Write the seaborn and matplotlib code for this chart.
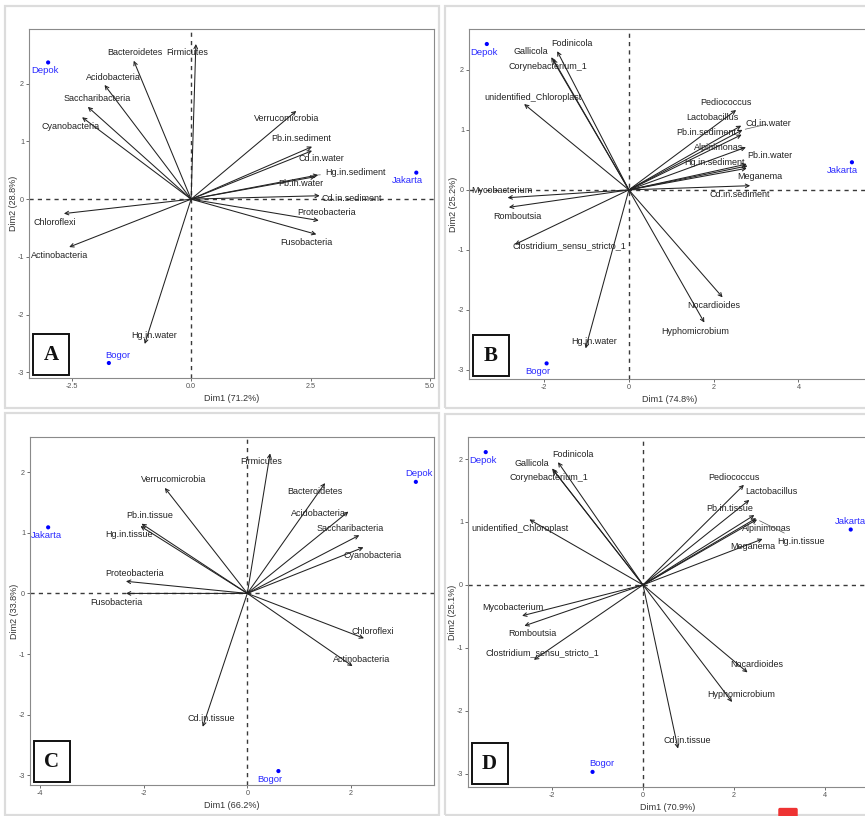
import matplotlib
matplotlib.use("Agg")
import matplotlib.pyplot as plt
import seaborn as sns
import pandas as pd
from matplotlib.patches import Rectangle, FancyBboxPatch

# ---------------- data ----------------
sites = ["Depok", "Jakarta", "Bogor"]

# panel A : phyla + metals in water / sediment
a_site_x = [-2.99, 4.71, -1.72]
a_site_y = [2.37, 0.46, -2.84]
a_vars = ["Bacteroidetes", "Firmicutes", "Acidobacteria", "Saccharibacteria", "Cyanobacteria",
          "Verrucomicrobia", "Pb.in.sediment", "Cd.in.water", "Hg.in.sediment", "Pb.in.water",
          "Cd.in.sediment", "Proteobacteria", "Fusobacteria", "Chloroflexi", "Actinobacteria",
          "Hg.in.water"]
a_var_x = [-1.20, 0.10, -1.81, -2.16, -2.28, 2.20, 2.53, 2.53, 2.66, 2.60, 2.69, 2.67, 2.62,
           -2.66, -2.55, -0.97]
a_var_y = [2.40, 2.69, 1.98, 1.60, 1.42, 1.53, 0.91, 0.84, 0.42, 0.39, 0.06, -0.37, -0.61,
           -0.25, -0.83, -2.51]

# panel B : genera + metals in water / sediment
b_site_x = [-3.35, 5.26, -1.94]
b_site_y = [2.43, 0.46, -2.89]
b_vars = ["Fodinicola", "Gallicola", "Corynebacterium_1", "unidentified_Chloroplast", "Pediococcus",
          "Lactobacillus", "Cd.in.water", "Pb.in.sediment", "Alpinimonas", "Hg.in.sediment",
          "Pb.in.water", "Meganema", "Cd.in.sediment", "Mycobacterium", "Romboutsia",
          "Clostridium_sensu_stricto_1", "Hg.in.water", "Nocardioides", "Hyphomicrobium"]
b_var_x = [-1.69, -1.83, -1.79, -2.47, 2.53, 2.65, 2.68, 2.66, 2.76, 2.78, 2.80, 2.78, 2.86,
           -2.86, -2.83, -2.69, -1.02, 2.21, 1.78]
b_var_y = [2.31, 2.21, 2.18, 1.43, 1.33, 1.07, 1.00, 0.92, 0.71, 0.43, 0.40, 0.36, 0.07,
           -0.13, -0.29, -0.91, -2.64, -1.79, -2.21]

# panel C : phyla + metals in tissue
c_site_x = [3.25, -3.84, 0.60]
c_site_y = [1.84, 1.09, -2.93]
c_vars = ["Firmicutes", "Verrucomicrobia", "Bacteroidetes", "Acidobacteria", "Saccharibacteria",
          "Cyanobacteria", "Pb.in.tissue", "Hg.in.tissue", "Proteobacteria", "Fusobacteria",
          "Chloroflexi", "Actinobacteria", "Cd.in.tissue"]
c_var_x = [0.44, -1.59, 1.50, 1.95, 2.16, 2.24, -2.04, -2.06, -2.34, -2.34, 2.25, 2.03, -0.86]
c_var_y = [2.31, 1.74, 1.82, 1.35, 0.96, 0.76, 1.15, 1.11, 0.20, 0.00, -0.74, -1.20, -2.20]

# panel D : genera + metals in tissue
d_site_x = [-3.46, 4.57, -1.11]
d_site_y = [2.11, 0.88, -2.97]
d_vars = ["Fodinicola", "Gallicola", "Corynebacterium_1", "unidentified_Chloroplast", "Pediococcus",
          "Lactobacillus", "Pb.in.tissue", "Alpinimonas", "Hg.in.tissue", "Meganema",
          "Mycobacterium", "Romboutsia", "Clostridium_sensu_stricto_1", "Nocardioides",
          "Hyphomicrobium", "Cd.in.tissue"]
d_var_x = [-1.87, -2.00, -1.98, -2.50, 2.22, 2.34, 2.45, 2.49, 2.51, 2.63, -2.66, -2.61, -2.40,
           2.30, 1.96, 0.77]
d_var_y = [1.95, 1.85, 1.83, 1.04, 1.59, 1.35, 1.11, 1.06, 1.04, 0.73, -0.49, -0.65, -1.19,
           -1.39, -1.86, -2.60]

dim_labels = {"A": ("Dim1 (71.2%)", "Dim2 (28.8%)"),
              "B": ("Dim1 (74.8%)", "Dim2 (25.2%)"),
              "C": ("Dim1 (66.2%)", "Dim2 (33.8%)"),
              "D": ("Dim1 (70.9%)", "Dim2 (25.1%)")}

# label offsets (pixels) -- mimic the ggrepel placement
a_lab_off = [(1, 8), (-9, -9), (9, 7), (9, 8), (-12, -9), (-10, -8), (-11, 8), (9, -8), (37, 2),
             (-15, -7), (32, -3), (8, 8), (-10, -8), (-9, -9), (-10, -8), (9, 8)]
b_lab_off = [(15, 8), (-20, 6), (-5, -7), (9, 7), (-10, 8), (-29, 8), (26, 6), (-35, 2), (-27, 0),
             (-32, 2), (22, 10), (13, -8), (-10, -9), (-6, 7), (9, -9), (55, -1), (9, 7), (-9, -8),
             (-9, -9)]
c_lab_off = [(-9, -8), (9, 8), (-10, -8), (-30, -2), (-9, 7), (9, -8), (8, 8), (-11, -8), (9, 8),
             (-10, -9), (9, 7), (9, 7), (9, 8)]
d_lab_off = [(15, 8), (-20, 5), (-4, -8), (-9, -9), (-10, 7), (22, 8), (-25, 7), (10, -10), (44, -22),
             (-10, -8), (-9, 8), (8, -8), (8, 7), (9, 8), (9, 8), (9, 8)]
a_site_off = [(-3, -8), (-9, -8), (9, 8)]
b_site_off = [(-3, -8), (-9, -8), (-9, -8)]
c_site_off = [(3, 8), (-2, -8), (-9, -8)]
d_site_off = [(-3, -8), (0, 8), (9, 8)]
segments = {"A": ["Hg.in.sediment"], "B": ["Cd.in.water"], "C": [], "D": ["Hg.in.tissue"]}

# ---------------- figure ----------------
sns.set_style("white")
plt.rcParams["font.family"] = ["Liberation Sans", "DejaVu Sans"]
plt.rcParams["axes.unicode_minus"] = False

W, H = 865, 816
fig = plt.figure(figsize=(W / 100, H / 100), dpi=100)


def frac(x0, y0, x1, y1):
    # pixel box (top-left origin) -> figure fraction [l, b, w, h]
    return [x0 / W, 1 - y1 / H, (x1 - x0) / W, (y1 - y0) / H]


# light grey frames round each panel
for (x0, y0, x1, y1) in [(5, 6, 439, 408), (445, 6, 872, 408), (5, 413, 439, 815), (445, 414, 872, 815)]:
    l, b, w, h = frac(x0, y0, x1, y1)
    fig.patches.append(Rectangle((l, b), w, h, transform=fig.transFigure, fill=False,
                                 edgecolor="#dcdcdc", lw=1.6, zorder=0))

panels = [
    ("A", frac(29, 29, 434, 378), (-3.39, 5.08), (-3.10, 2.95), [-2.5, 0, 2.5, 5.0], ["-2.5", "0.0", "2.5", "5.0"],
     a_site_x, a_site_y, a_site_off, a_vars, a_var_x, a_var_y, a_lab_off),
    ("B", frac(469, 29, 871, 379), (-3.77, 5.71), (-3.15, 2.68), [-2, 0, 2, 4], ["-2", "0", "2", "4"],
     b_site_x, b_site_y, b_site_off, b_vars, b_var_x, b_var_y, b_lab_off),
    ("C", frac(30, 437, 434, 785), (-4.19, 3.60), (-3.16, 2.58), [-4, -2, 0, 2], ["-4", "-2", "0", "2"],
     c_site_x, c_site_y, c_site_off, c_vars, c_var_x, c_var_y, c_lab_off),
    ("D", frac(468, 437, 868, 787), (-3.85, 4.95), (-3.21, 2.35), [-2, 0, 2, 4], ["-2", "0", "2", "4"],
     d_site_x, d_site_y, d_site_off, d_vars, d_var_x, d_var_y, d_lab_off),
]

for (tag, rect, xlim, ylim, xt, xtl, sx, sy, soff, vnames, vx, vy, voff) in panels:
    ax = fig.add_axes(rect)
    ax.set_xlim(*xlim)
    ax.set_ylim(*ylim)

    ax.axhline(0, color="#3a3a3a", lw=1.0, ls=(0, (3, 3)), zorder=1)
    ax.axvline(0, color="#3a3a3a", lw=1.0, ls=(0, (3, 3)), zorder=1)

    # variable arrows
    for name, x, y, (dx, dy) in zip(vnames, vx, vy, voff):
        ax.annotate("", xy=(x, y), xytext=(0, 0),
                    arrowprops=dict(arrowstyle="->", color="#222222", lw=0.75,
                                    shrinkA=0, shrinkB=0, mutation_scale=6.5), zorder=2)
        seg = None
        if name in segments[tag]:
            seg = dict(arrowstyle="-", color="#555555", lw=0.5, shrinkA=1, shrinkB=2)
        ax.annotate(name, xy=(x, y), xytext=(dx, dy), textcoords="offset pixels",
                    ha="center", va="center", fontsize=6.5, color="#222222",
                    arrowprops=seg, zorder=3)

    # individuals (sites)
    sdf = pd.DataFrame({"x": sx, "y": sy, "site": sites})
    sns.scatterplot(data=sdf, x="x", y="y", color="#0000ff", s=9, edgecolor="none", ax=ax,
                    legend=False, zorder=4)
    for name, x, y, (dx, dy) in zip(sites, sx, sy, soff):
        ax.annotate(name, xy=(x, y), xytext=(dx, dy), textcoords="offset pixels",
                    ha="center", va="center", fontsize=6.8, color="#2a2aff", zorder=4)

    ax.set_xticks(xt)
    ax.set_xticklabels(xtl)
    ax.set_yticks([-3, -2, -1, 0, 1, 2])
    ax.set_yticklabels(["-3", "-2", "-1", "0", "1", "2"])
    ax.tick_params(axis="both", labelsize=5.2, labelcolor="#555555", length=2, width=0.6,
                   color="#555555", pad=1.5, left=True, bottom=True)
    for sp in ax.spines.values():
        sp.set_color("#8a8a8a")
        sp.set_linewidth(0.8)
    xlab, ylab = dim_labels[tag]
    ax.set_xlabel(xlab, fontsize=6.5, color="#333333", labelpad=3)
    ax.set_ylabel(ylab, fontsize=6.5, color="#333333")
    ax.yaxis.set_label_coords(-0.028, 0.5)

    # panel letter in a black box at the lower left corner
    ax.add_patch(Rectangle((0.009, 0.008), 0.09, 0.118, transform=ax.transAxes, fill=True,
                           facecolor="white", edgecolor="#111111", lw=1.4, zorder=5))
    ax.text(0.054, 0.067, tag, transform=ax.transAxes, ha="center", va="center",
            fontsize=15, fontweight="bold", family="Liberation Serif", color="#111111", zorder=6)

# small red mark at the bottom edge of the screenshot
fig.patches.append(FancyBboxPatch((780 / W, -0.01), 16 / W, 0.018, boxstyle="round,pad=0.002",
                                  transform=fig.transFigure, facecolor="#ee3333", edgecolor="none"))

fig.savefig("out.png", dpi=100)
